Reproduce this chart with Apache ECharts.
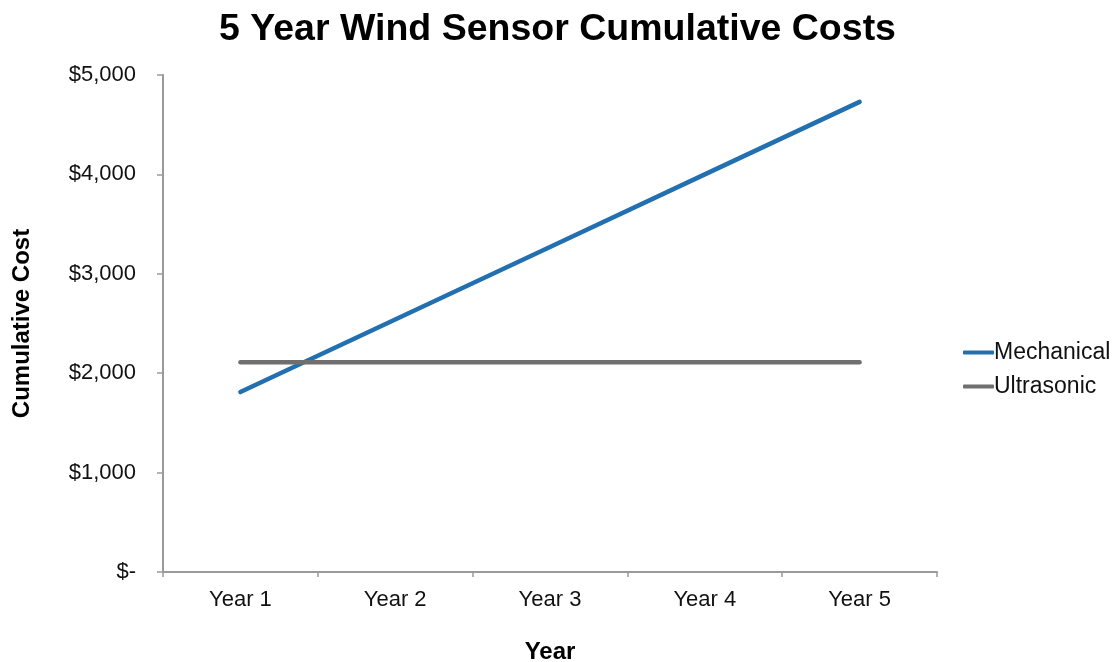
<!DOCTYPE html>
<html>
<head>
<meta charset="utf-8">
<script src="https://cdn.jsdelivr.net/npm/echarts@6/dist/echarts.min.js"></script>
<style>
  html, body { margin: 0; padding: 0; background: #ffffff; }
  #chart { width: 1115px; height: 662px; }
</style>
</head>
<body>
<div id="chart"></div>
<script>
// Cumulative cost of each wind sensor type over five years
const years = ['Year 1', 'Year 2', 'Year 3', 'Year 4', 'Year 5'];
const mechanical = [1810, 2540, 3270, 4000, 4730];
const ultrasonic = [2110, 2110, 2110, 2110, 2110];
const yTicks = [0, 1000, 2000, 3000, 4000, 5000];

const FONT = 'Liberation Sans, Arial, sans-serif';

function money(v) {
  if (v === 0) return '$-';
  return '$' + v.toLocaleString('en-US');
}

const chart = echarts.init(document.getElementById('chart'), null, { renderer: 'canvas' });
chart.setOption({
  backgroundColor: '#ffffff',
  animation: false,
  title: {
    text: '5 Year Wind Sensor Cumulative Costs',
    left: 'center',
    top: 6,
    textStyle: { fontFamily: FONT, fontSize: 37.5, fontWeight: 'bold', color: '#000' }
  },
  legend: {
    orient: 'vertical',
    left: 958,
    top: 336,
    itemWidth: 31,
    itemHeight: 4,
    itemGap: 11,
    icon: 'roundRect',
    textStyle: { fontFamily: FONT, fontSize: 23, color: '#111', padding: [0, 0, 0, -5] },
    data: ['Mechanical', 'Ultrasonic']
  },
  grid: {
    left: 163, right: 178, top: 75, bottom: 90,
    containLabel: false,
    outerBoundsMode: 'none'
  },
  xAxis: {
    type: 'category',
    data: years,
    boundaryGap: true,
    name: 'Year',
    nameLocation: 'middle',
    nameGap: 68,
    nameTextStyle: { fontFamily: FONT, fontSize: 24, fontWeight: 'bold', color: '#000' },
    axisLine: { lineStyle: { color: '#9a9a9a', width: 2 } },
    axisTick: { show: true, length: 5, lineStyle: { color: '#9a9a9a', width: 1.5 } },
    axisLabel: { fontFamily: FONT, fontSize: 22, color: '#111', margin: 17 },
    splitLine: { show: false }
  },
  yAxis: {
    type: 'value',
    min: yTicks[0],
    max: yTicks[yTicks.length - 1],
    interval: 1000,
    name: 'Cumulative Cost',
    nameLocation: 'middle',
    nameGap: 129,
    nameRotate: 90,
    nameTextStyle: { fontFamily: FONT, fontSize: 24, fontWeight: 'bold', color: '#000' },
    axisLine: { show: true, lineStyle: { color: '#9a9a9a', width: 2 } },
    axisTick: { show: true, length: 6, lineStyle: { color: '#9a9a9a', width: 1.5 } },
    axisLabel: { fontFamily: FONT, fontSize: 22, color: '#111', margin: 27, formatter: money },
    splitLine: { show: false }
  },
  series: [
    {
      name: 'Mechanical',
      type: 'line',
      data: mechanical,
      symbol: 'none',
      color: '#2270b0',
      lineStyle: { width: 4.5, color: '#2270b0', cap: 'round' }
    },
    {
      name: 'Ultrasonic',
      type: 'line',
      data: ultrasonic,
      symbol: 'none',
      color: '#6f6f6f',
      lineStyle: { width: 4.5, color: '#6f6f6f', cap: 'round' }
    }
  ]
});
</script>
</body>
</html>
